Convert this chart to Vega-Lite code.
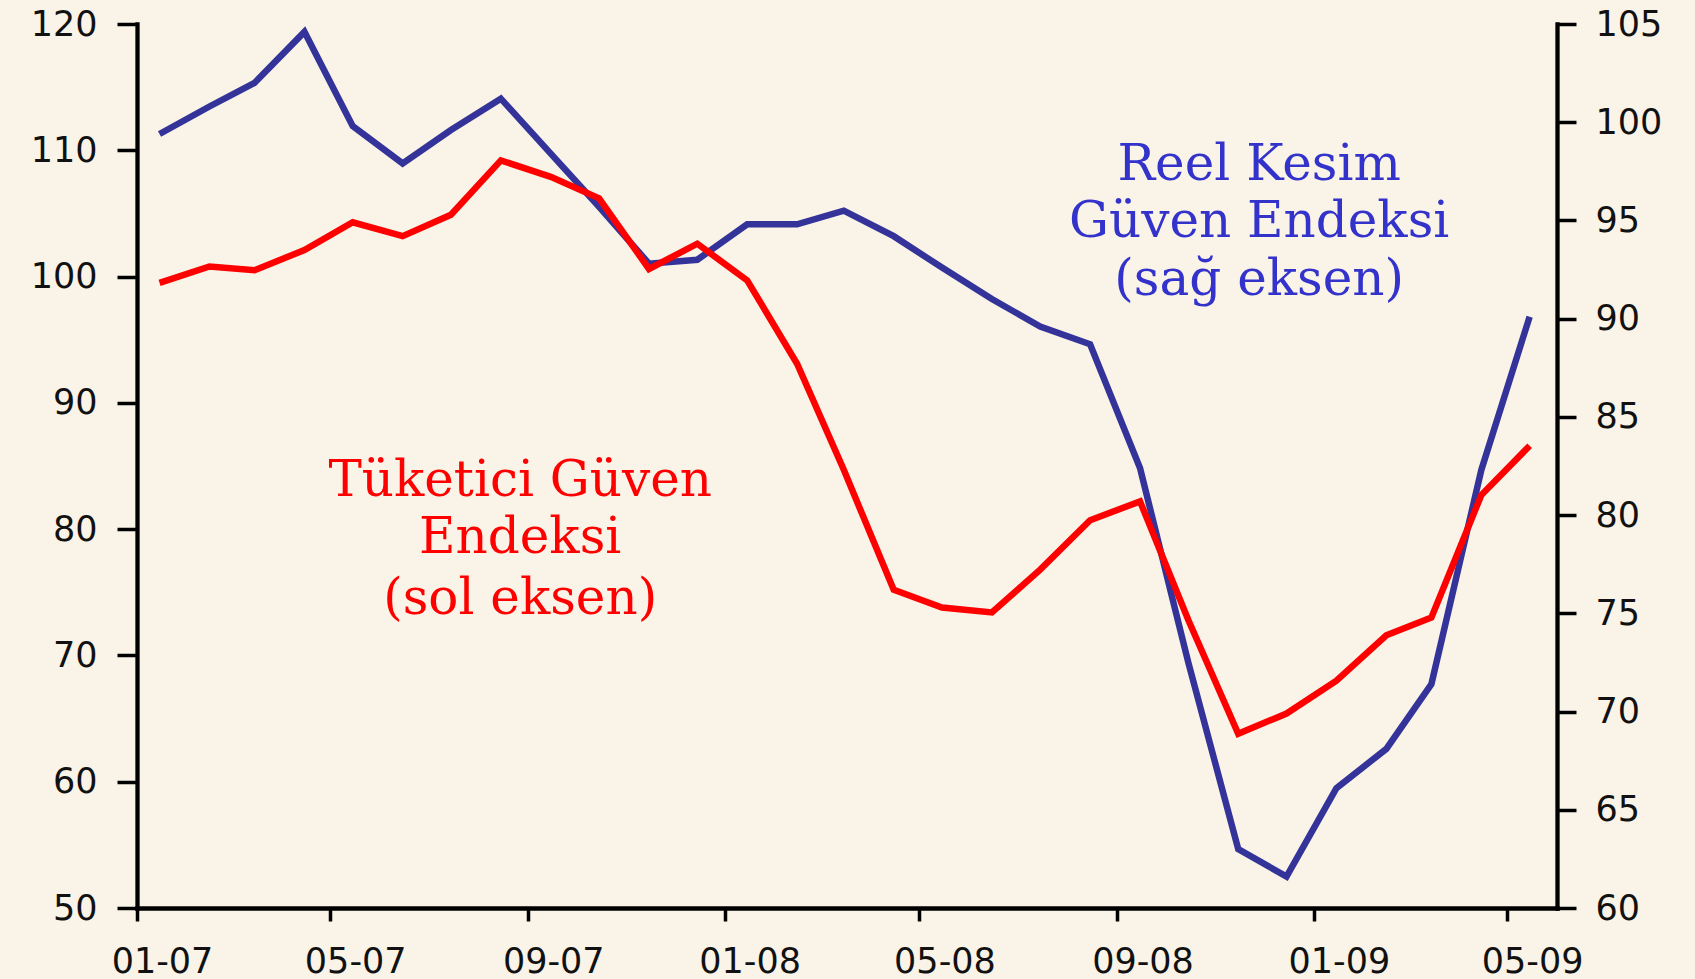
{
  "$schema": "https://vega.github.io/schema/vega-lite/v6.json",
  "width": 1420,
  "height": 884,
  "autosize": {"type": "none"},
  "padding": {"left": 137, "top": 24, "right": 138, "bottom": 71},
  "background": "#FAF3E7",
  "config": {
    "view": {"stroke": null},
    "axis": {
      "grid": false,
      "title": null,
      "domainColor": "#000000",
      "domainWidth": 4.3,
      "domainCap": "square",
      "tickColor": "#000000",
      "tickWidth": 3.5,
      "labelFont": "DejaVu Sans",
      "labelFontSize": 35,
      "labelColor": "#111111",
      "labelFlush": false,
      "labelOverlap": false,
      "labelBound": false,
      "labelLimit": 400
    }
  },
  "datasets": {
    "series": [
      {"date": "2007-01-15", "tuketici": 99.5, "reel": 99.4},
      {"date": "2007-02-15", "tuketici": 100.8, "reel": 100.8},
      {"date": "2007-03-15", "tuketici": 100.5, "reel": 102.0},
      {"date": "2007-04-15", "tuketici": 102.1, "reel": 104.6},
      {"date": "2007-05-15", "tuketici": 104.3, "reel": 99.8},
      {"date": "2007-06-15", "tuketici": 103.2, "reel": 97.9},
      {"date": "2007-07-15", "tuketici": 104.9, "reel": 99.6},
      {"date": "2007-08-15", "tuketici": 109.2, "reel": 101.2},
      {"date": "2007-09-15", "tuketici": 107.9, "reel": 98.4},
      {"date": "2007-10-15", "tuketici": 106.2, "reel": 95.7},
      {"date": "2007-11-15", "tuketici": 100.6, "reel": 92.8},
      {"date": "2007-12-15", "tuketici": 102.6, "reel": 93.0},
      {"date": "2008-01-15", "tuketici": 99.7, "reel": 94.8},
      {"date": "2008-02-15", "tuketici": 93.1, "reel": 94.8},
      {"date": "2008-03-15", "tuketici": 84.7, "reel": 95.5},
      {"date": "2008-04-15", "tuketici": 75.2, "reel": 94.2},
      {"date": "2008-05-15", "tuketici": 73.8, "reel": 92.6},
      {"date": "2008-06-15", "tuketici": 73.4, "reel": 91.0},
      {"date": "2008-07-15", "tuketici": 76.8, "reel": 89.6},
      {"date": "2008-08-15", "tuketici": 80.7, "reel": 88.7},
      {"date": "2008-09-15", "tuketici": 82.2, "reel": 82.4},
      {"date": "2008-10-15", "tuketici": 72.8, "reel": 72.5},
      {"date": "2008-11-15", "tuketici": 63.8, "reel": 63.0},
      {"date": "2008-12-15", "tuketici": 65.4, "reel": 61.6},
      {"date": "2009-01-15", "tuketici": 68.0, "reel": 66.1},
      {"date": "2009-02-15", "tuketici": 71.6, "reel": 68.1},
      {"date": "2009-03-15", "tuketici": 73.0, "reel": 71.4},
      {"date": "2009-04-15", "tuketici": 82.7, "reel": 82.3},
      {"date": "2009-05-15", "tuketici": 86.6, "reel": 90.1}
    ],
    "notes": [
      {"date": "2008-11-28", "value": 107.65, "label": "Reel Kesim", "series": "reel"},
      {"date": "2008-11-28", "value": 103.14, "label": "Güven Endeksi", "series": "reel"},
      {"date": "2008-11-28", "value": 98.54, "label": "(sağ eksen)", "series": "reel"},
      {"date": "2007-08-27", "value": 82.63, "label": "Tüketici Güven", "series": "tuketici"},
      {"date": "2007-08-27", "value": 78.12, "label": "Endeksi", "series": "tuketici"},
      {"date": "2007-08-27", "value": 73.29, "label": "(sol eksen)", "series": "tuketici"}
    ]
  },
  "encoding": {
    "x": {
      "field": "date",
      "type": "temporal",
      "scale": {
        "type": "utc",
        "domain": [
          {"year": 2007, "month": 1, "date": 1, "utc": true},
          {"year": 2009, "month": 6, "date": 1, "utc": true}
        ]
      },
      "axis": {
        "values": [
          {"year": 2007, "month": 1, "date": 1, "utc": true},
          {"year": 2007, "month": 5, "date": 1, "utc": true},
          {"year": 2007, "month": 9, "date": 1, "utc": true},
          {"year": 2008, "month": 1, "date": 1, "utc": true},
          {"year": 2008, "month": 5, "date": 1, "utc": true},
          {"year": 2008, "month": 9, "date": 1, "utc": true},
          {"year": 2009, "month": 1, "date": 1, "utc": true},
          {"year": 2009, "month": 5, "date": 1, "utc": true}
        ],
        "labelExpr": "utcFormat(datum.value, '%m-%y')",
        "tickSize": 13,
        "labelPadding": 23,
        "labelOffset": 25,
        "labelAlign": "center"
      }
    }
  },
  "layer": [
    {
      "data": {"name": "series"},
      "mark": {"type": "line", "color": "#333399", "strokeWidth": 6.5},
      "encoding": {
        "y": {
          "field": "reel",
          "type": "quantitative",
          "scale": {"domain": [60, 105], "nice": false, "zero": false},
          "axis": {
            "orient": "right",
            "values": [60, 65, 70, 75, 80, 85, 90, 95, 100, 105],
            "tickSize": 19,
            "labelPadding": 19
          }
        }
      }
    },
    {
      "data": {"name": "series"},
      "mark": {"type": "line", "color": "#FF0000", "strokeWidth": 6.5},
      "encoding": {
        "y": {
          "field": "tuketici",
          "type": "quantitative",
          "scale": {"domain": [50, 120], "nice": false, "zero": false},
          "axis": {
            "orient": "left",
            "values": [50, 60, 70, 80, 90, 100, 110, 120],
            "tickSize": 20,
            "labelPadding": 20
          }
        }
      }
    },
    {
      "data": {"name": "notes"},
      "mark": {"type": "text", "font": "DejaVu Serif", "fontSize": 50, "align": "center", "baseline": "alphabetic"},
      "encoding": {
        "y": {
          "field": "value",
          "type": "quantitative",
          "scale": {"domain": [50, 120], "nice": false, "zero": false},
          "axis": null
        },
        "text": {"field": "label"},
        "color": {
          "field": "series",
          "type": "nominal",
          "scale": {"domain": ["reel", "tuketici"], "range": ["#3333CC", "#FF0000"]},
          "legend": null
        }
      }
    }
  ],
  "resolve": {"scale": {"y": "independent"}}
}
